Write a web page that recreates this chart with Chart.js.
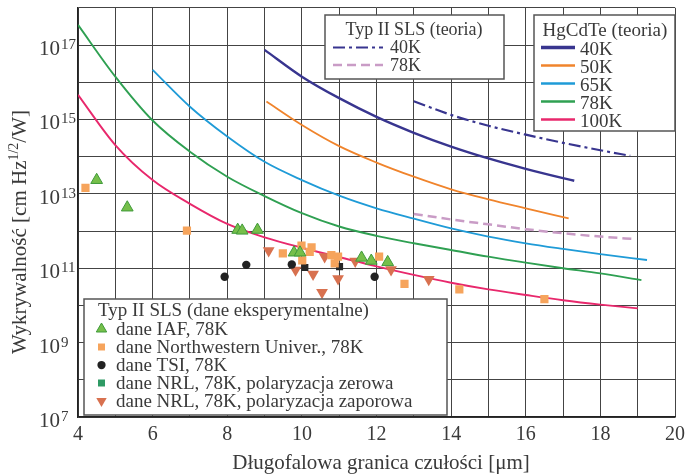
<!DOCTYPE html>
<html lang="pl">
<head>
<meta charset="utf-8">
<script src="https://cdn.jsdelivr.net/npm/chart.js@4.4.1/dist/chart.umd.min.js"></script>
<style>
  html, body { margin: 0; padding: 0; background: #fff; }
</style>
</head>
<body>
<canvas id="chart" width="691" height="474"></canvas>
<script>
// axis ticks
const xTickLabels = [4, 6, 8, 10, 12, 14, 16, 18, 20];
const yGridValues = [1e7, 1e8, 1e9, 1e10, 1e11, 1e12, 1e13, 1e14, 1e15, 1e16, 1e17, 1e18];
const yTickExponents = [7, 9, 11, 13, 15, 17];

// HgCdTe (teoria)
const hg40X = [9, 10, 11, 12, 13, 14, 15, 16, 17, 17.3];
const hg40Y = [7.4e16, 1.41e16, 3.72e15, 1.17e15, 4.37e14, 1.86e14, 8.91e13, 4.68e13, 2.63e13, 2.24e13];
const hg50X = [9.05, 10, 11, 12, 13, 14, 15, 16, 17.15];
const hg50Y = [3.02e15, 7.08e14, 1.91e14, 6.92e13, 2.88e13, 1.32e13, 7.08e12, 4.07e12, 2.19e12];
const hg65X = [6, 7, 8, 9, 10, 11, 12, 13, 14, 15, 16, 17, 18, 19.25];
const hg65Y = [2.14e16, 2.19e15, 3.47e14, 7.24e13, 2.34e13, 8.91e12, 4.07e12, 2.14e12, 1.17e12, 7.08e11, 4.68e11, 3.31e11, 2.4e11, 1.66e11];
const hg78X = [4, 5, 6, 7, 8, 9, 10, 11, 12, 13, 14, 15, 16, 17, 18, 19.1];
const hg78Y = [3.47e17, 1.41e16, 9.33e14, 1.35e14, 2.88e13, 8.71e12, 3.02e12, 1.32e12, 7.41e11, 4.68e11, 3.09e11, 2.04e11, 1.41e11, 1.0e11, 7.24e10, 4.79e10];
const hg100X = [4, 5, 6, 7, 8, 9, 10, 11, 12, 13, 14, 15, 16, 17, 18, 19];
const hg100Y = [4.57e15, 2.04e14, 2.34e13, 5.37e12, 1.55e12, 6.76e11, 3.55e11, 2.0e11, 1.12e11, 6.61e10, 4.07e10, 2.69e10, 1.91e10, 1.38e10, 1.05e10, 8.32e9];

// Typ II SLS (teoria)
const sls40X = [13, 14, 15, 16, 17, 18, 18.8];
const sls40Y = [3.09e15, 1.32e15, 6.76e14, 3.89e14, 2.34e14, 1.48e14, 1.05e14];
const sls78X = [13, 14, 15, 16, 17, 18, 18.95];
const sls78Y = [2.88e12, 2.04e12, 1.51e12, 1.12e12, 8.71e11, 7.08e11, 6.03e11];

// Typ II SLS (dane eksperymentalne)
const iafX = [4.5, 5.32, 8.28, 8.4, 8.81, 9.79, 9.95, 11.6, 11.86, 12.3];
const iafY = [2.34e13, 4.27e12, 1.07e12, 1.02e12, 1.07e12, 2.63e11, 2.63e11, 1.91e11, 1.58e11, 1.45e11];
const nwX = [4.2, 6.92, 9.49, 9.99, 10.01, 10.21, 10.26, 10.79, 10.88, 10.97, 12.07, 12.75, 14.22, 16.5];
const nwY = [1.45e13, 1.02e12, 2.51e11, 4.07e11, 1.62e11, 2.75e11, 3.63e11, 2.24e11, 1.35e11, 2.04e11, 2.04e11, 3.8e10, 2.69e10, 1.48e10];
const tsiX = [7.93, 8.51, 9.73, 11.95];
const tsiY = [5.89e10, 1.23e11, 1.26e11, 5.89e10];
const nrlZeroX = [10.08, 11.01];
const nrlZeroY = [1.05e11, 1.1e11];
const nrlRevX = [9.11, 9.83, 10.3, 10.54, 10.61, 10.97, 11.43, 12.39, 13.4];
const nrlRevY = [2.95e11, 8.91e10, 6.92e10, 2.24e10, 2.04e11, 5.25e10, 1.55e11, 9.12e10, 5.01e10];

const FONT = "'Liberation Serif', 'DejaVu Serif', serif";
const TEXT = '#3a3a3a';
const NAVY = '#38358f';
const ORANGE = '#f0842c';
const BLUE = '#1f9bd7';
const GREEN = '#2fa052';
const PINK = '#e8286c';
const LAVENDER = '#c99cc6';

function pts(xs, ys) {
  return xs.map((x, i) => ({ x, y: ys[i] }));
}

function curve(xs, ys, color, width, dash) {
  return {
    data: pts(xs, ys),
    showLine: true,
    borderColor: color,
    borderWidth: width,
    borderDash: dash || [],
    pointRadius: 0,
    pointHoverRadius: 0,
    cubicInterpolationMode: 'monotone',
    fill: false,
  };
}

function markers(xs, ys, style, radius, fill, border, rotation) {
  return {
    data: pts(xs, ys),
    showLine: false,
    pointStyle: style,
    pointRadius: radius,
    pointRotation: rotation || 0,
    backgroundColor: fill,
    borderColor: border || fill,
    borderWidth: border ? 1 : 0,
  };
}

function drawMarker(ctx, style, x, y, r, fill, stroke) {
  ctx.beginPath();
  if (style === 'triangle') {
    ctx.moveTo(x, y - r);
    ctx.lineTo(x + r * 0.866, y + r / 2);
    ctx.lineTo(x - r * 0.866, y + r / 2);
    ctx.closePath();
  } else if (style === 'triangleDown') {
    ctx.moveTo(x, y + r);
    ctx.lineTo(x + r * 0.866, y - r / 2);
    ctx.lineTo(x - r * 0.866, y - r / 2);
    ctx.closePath();
  } else if (style === 'rect') {
    ctx.rect(x - r * 0.7, y - r * 0.7, r * 1.4, r * 1.4);
  } else {
    ctx.arc(x, y, r * 0.75, 0, Math.PI * 2);
  }
  ctx.fillStyle = fill;
  ctx.fill();
  if (stroke) {
    ctx.strokeStyle = stroke;
    ctx.lineWidth = 1;
    ctx.stroke();
  }
}

function legendFrame(ctx, x0, y0, x1, y1) {
  ctx.fillStyle = '#fff';
  ctx.fillRect(x0, y0, x1 - x0, y1 - y0);
  ctx.strokeStyle = '#555';
  ctx.lineWidth = 1.5;
  ctx.setLineDash([]);
  ctx.strokeRect(x0, y0, x1 - x0, y1 - y0);
}

function legendLine(ctx, x0, x1, y, color, width, dash) {
  ctx.beginPath();
  ctx.strokeStyle = color;
  ctx.lineWidth = width;
  ctx.setLineDash(dash || []);
  ctx.moveTo(x0, y);
  ctx.lineTo(x1, y);
  ctx.stroke();
  ctx.setLineDash([]);
}

const decorations = {
  id: 'decorations',
  afterDraw(chart) {
    const { ctx, scales } = chart;
    ctx.save();
    ctx.fillStyle = TEXT;
    ctx.textBaseline = 'alphabetic';

    // y tick labels, 10 with exponent
    yTickExponents.forEach((exp) => {
      const py = scales.y.getPixelForValue(Number('1e' + exp));
      ctx.fillStyle = TEXT;
      ctx.font = `21px ${FONT}`;
      ctx.textAlign = 'right';
      ctx.fillText('10', 60, py + 10);
      ctx.font = `15px ${FONT}`;
      ctx.textAlign = 'left';
      ctx.fillText(String(exp), 61, py + 4);
    });

    // y title with superscript
    ctx.save();
    ctx.translate(26, 232);
    ctx.rotate(-Math.PI / 2);
    const parts = [
      ['Wykrywalność [cm Hz', 21, 0],
      ['1/2', 14, -8],
      ['/W]', 21, 0],
    ];
    let total = 0;
    parts.forEach((p) => {
      ctx.font = `${p[1]}px ${FONT}`;
      total += ctx.measureText(p[0]).width;
    });
    let cx = -total / 2;
    ctx.textAlign = 'left';
    parts.forEach((p) => {
      ctx.font = `${p[1]}px ${FONT}`;
      ctx.fillText(p[0], cx, p[2]);
      cx += ctx.measureText(p[0]).width;
    });
    ctx.restore();

    // x title
    ctx.font = `21px ${FONT}`;
    ctx.textAlign = 'center';
    ctx.fillText('Długofalowa granica czułości [μm]', 381, 469);

    // legend: Typ II SLS (teoria)
    legendFrame(ctx, 325, 15, 504, 79);
    ctx.fillStyle = TEXT;
    ctx.font = `18px ${FONT}`;
    ctx.textAlign = 'center';
    ctx.fillText('Typ II SLS (teoria)', 414, 35);
    ctx.textAlign = 'left';
    legendLine(ctx, 333, 383, 47.5, NAVY, 2.2, [12, 4, 3, 4]);
    legendLine(ctx, 333, 383, 65, LAVENDER, 2.5, [9, 5]);
    ctx.fillStyle = TEXT;
    ctx.fillText('40K', 390, 53);
    ctx.fillText('78K', 390, 71);

    // legend: HgCdTe (teoria)
    legendFrame(ctx, 534, 15, 675, 131);
    ctx.fillStyle = TEXT;
    ctx.font = `19px ${FONT}`;
    ctx.textAlign = 'center';
    ctx.fillText('HgCdTe (teoria)', 605, 36);
    ctx.textAlign = 'left';
    const hgItems = [
      ['40K', NAVY, 3.5],
      ['50K', ORANGE, 2.5],
      ['65K', BLUE, 2.5],
      ['78K', GREEN, 2.5],
      ['100K', PINK, 2.5],
    ];
    hgItems.forEach((it, i) => {
      const by = 55 + i * 18;
      legendLine(ctx, 541, 575, by - 7.5, it[1], it[2]);
      ctx.fillStyle = TEXT;
      ctx.fillText(it[0], 580, by);
    });

    // legend: Typ II SLS (dane eksperymentalne)
    legendFrame(ctx, 84, 299, 447, 415);
    ctx.fillStyle = TEXT;
    ctx.textAlign = 'left';
    ctx.fillText('Typ II SLS (dane eksperymentalne)', 98, 316);
    const expItems = [
      ['dane IAF, 78K', 'triangle', 6, '#76bf4a', '#3f9a3a'],
      ['dane Northwestern Univer., 78K', 'rect', 5, '#f6a45c'],
      ['dane TSI, 78K', 'circle', 5.5, '#222'],
      ['dane NRL, 78K, polaryzacja zerowa', 'rect', 5, '#2e9a64'],
      ['dane NRL, 78K, polaryzacja zaporowa', 'triangleDown', 6, '#d8714f'],
    ];
    expItems.forEach((it, i) => {
      const by = 335 + i * 18;
      drawMarker(ctx, it[1], 101.5, by - 6, it[2], it[3], it[4]);
      ctx.fillStyle = TEXT;
      ctx.fillText(it[0], 116, by);
    });

    ctx.restore();
  },
};

new Chart(document.getElementById('chart'), {
  type: 'scatter',
  data: {
    datasets: [
      markers(iafX, iafY, 'triangle', 6.8, '#76bf4a', '#3f9a3a'),
      markers(nwX, nwY, 'rect', 5.8, '#f6a45c'),
      markers(tsiX, tsiY, 'circle', 4.2, '#222'),
      markers(nrlZeroX, nrlZeroY, 'rect', 5, '#262626'),
      markers(nrlRevX, nrlRevY, 'triangle', 6.8, '#d8714f', null, 180),
      curve(sls40X, sls40Y, NAVY, 2.2, [12, 4, 3, 4]),
      curve(sls78X, sls78Y, LAVENDER, 2.5, [9, 5]),
      curve(hg40X, hg40Y, NAVY, 2.4),
      curve(hg50X, hg50Y, ORANGE, 1.8),
      curve(hg65X, hg65Y, BLUE, 1.8),
      curve(hg78X, hg78Y, GREEN, 1.9),
      curve(hg100X, hg100Y, PINK, 1.9),
    ],
  },
  options: {
    responsive: false,
    animation: false,
    events: [],
    layout: { padding: { top: 7, right: 12, left: 0, bottom: 0 } },
    plugins: {
      legend: { display: false },
      tooltip: { enabled: false },
    },
    scales: {
      x: {
        type: 'linear',
        min: 4,
        max: 20,
        afterFit: (scale) => {
          scale.height = 57;
        },
        border: { display: true, color: '#222', width: 1.5 },
        grid: { color: '#444', lineWidth: 1, drawTicks: false },
        ticks: {
          stepSize: 1,
          autoSkip: false,
          maxRotation: 0,
          padding: 6,
          color: TEXT,
          font: { family: FONT, size: 20 },
          callback: (v) => (xTickLabels.includes(v) ? String(v) : ''),
        },
      },
      y: {
        type: 'logarithmic',
        min: 1e7,
        max: 1e18,
        afterBuildTicks: (scale) => {
          scale.ticks = yGridValues.map((v) => ({ value: v }));
        },
        afterFit: (scale) => {
          scale.width = 78;
        },
        border: { display: true, color: '#222', width: 1.5 },
        grid: { color: '#444', lineWidth: 1, drawTicks: false },
        ticks: { display: false },
      },
    },
  },
  plugins: [decorations],
});
</script>
</body>
</html>
